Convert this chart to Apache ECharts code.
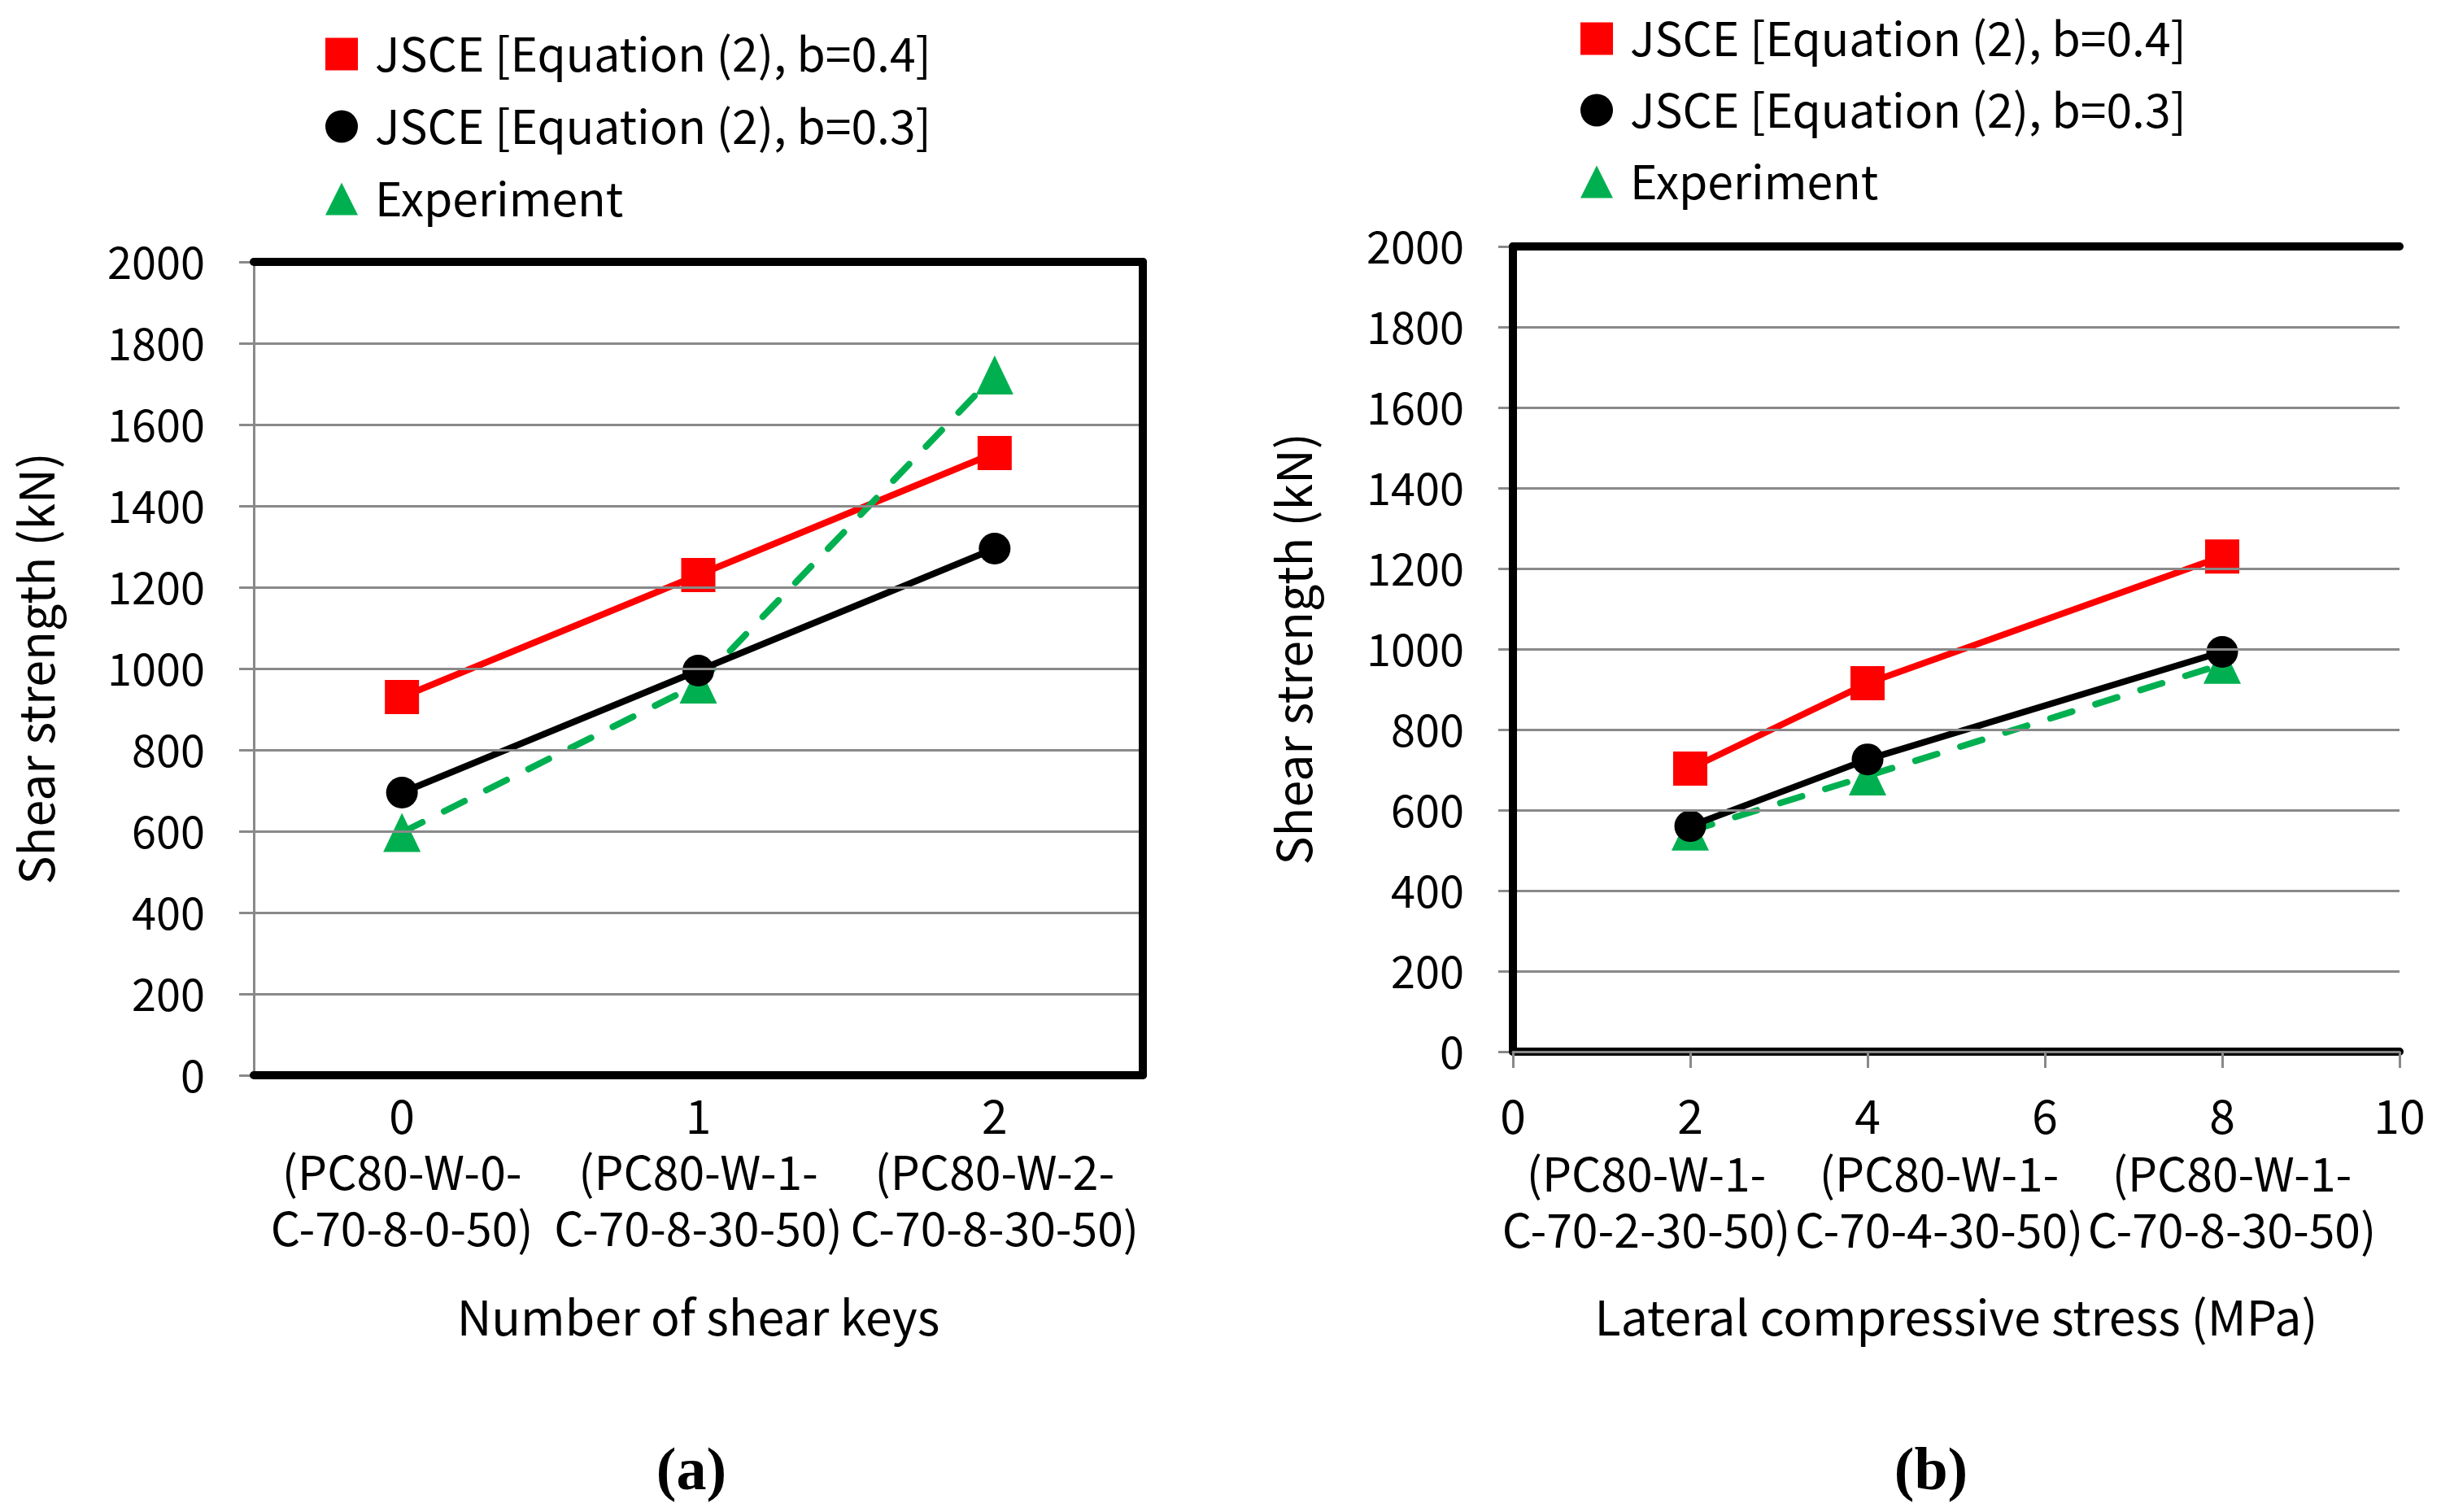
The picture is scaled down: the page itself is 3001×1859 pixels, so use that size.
<!DOCTYPE html>
<html>
<head>
<meta charset="utf-8">
<script src="https://cdn.jsdelivr.net/npm/echarts@6/dist/echarts.min.js"></script>
<style>
html,body{margin:0;padding:0;background:#fff;}
#main{width:3001px;height:1859px;}
</style>
</head>
<body>
<div id="main"></div>
<script>
// ---- data ----
var seriesNames = ['JSCE [Equation (2), b=0.4]', 'JSCE [Equation (2), b=0.3]', 'Experiment'];

// (a) number of shear keys
var shearKeys = ['0', '1', '2'];
var specimensA = ['(PC80-W-0-\nC-70-8-0-50)', '(PC80-W-1-\nC-70-8-30-50)', '(PC80-W-2-\nC-70-8-30-50)'];
var aJsce04 = [930, 1230, 1530];
var aJsce03 = [695, 995, 1295];
var aExp = [597, 962, 1722];

// (b) lateral compressive stress
var stress = [2, 4, 8];
var specimensB = ['(PC80-W-1-\nC-70-2-30-50)', '(PC80-W-1-\nC-70-4-30-50)', '(PC80-W-1-\nC-70-8-30-50)'];
var bJsce04 = [703, 915, 1230];
var bJsce03 = [560, 726, 993];
var bExp = [548, 685, 962];

var yTicks = {min: 0, max: 2000, interval: 200};
var xTicksB = {min: 0, max: 10, interval: 2};

// ---- styles ----
var FONT = 'Noto Sans CJK KR';
var GRAY = '#898989';
var RED = '#FF0000', BLACK = '#000000', GREEN = '#00B050';
var TICK_FS = 54, LABEL_FS = 57, NAME_FS = 59;

function pairs(xs, ys) { return xs.map(function (x, i) { return [x, ys[i]]; }); }

var chart = echarts.init(document.getElementById('main'), null, {renderer: 'canvas'});

function frameAxisX(grid, pos, type) {
  return {
    gridIndex: grid, type: type, position: pos, z: 6,
    min: type === 'value' ? xTicksB.min : undefined,
    max: type === 'value' ? xTicksB.max : undefined,
    interval: type === 'value' ? xTicksB.interval : undefined,
    data: type === 'category' ? shearKeys : undefined,
    axisLine: {show: true, onZero: false, lineStyle: {color: BLACK, width: 10}},
    axisTick: {show: false}, axisLabel: {show: false}, splitLine: {show: false}
  };
}
function frameAxisY(grid) {
  return {
    gridIndex: grid, type: 'value', position: 'right', z: 6,
    min: yTicks.min, max: yTicks.max, interval: yTicks.interval,
    axisLine: {show: true, lineStyle: {color: BLACK, width: 10}},
    axisTick: {show: false}, axisLabel: {show: false}, splitLine: {show: false}
  };
}
function mainAxisY(grid, nameGap, labelMargin) {
  return {
    gridIndex: grid, type: 'value', position: 'left', z: 5,
    min: yTicks.min, max: yTicks.max, interval: yTicks.interval,
    name: 'Shear strength (kN)', nameLocation: 'middle', nameGap: nameGap,
    nameTextStyle: {fontFamily: FONT, fontSize: NAME_FS, color: BLACK},
    axisLine: {show: true, lineStyle: {color: GRAY, width: 3}},
    axisTick: {show: true, length: 18, lineStyle: {color: GRAY, width: 3}},
    axisLabel: {fontFamily: FONT, fontSize: TICK_FS, color: BLACK, margin: labelMargin,
      formatter: function (v) { return String(v); }},
    splitLine: {show: true, lineStyle: {color: GRAY, width: 3}}
  };
}

var option = {
  backgroundColor: '#fff',
  animation: false,
  grid: [
    {left: 312, right: 3001 - 1405, top: 322, bottom: 1859 - 1322, containLabel: false},
    {left: 1860, right: 3001 - 2950, top: 303, bottom: 1859 - 1293, containLabel: false},
    {left: 1844, right: 3001 - 2924, top: 303, bottom: 1859 - 1293, containLabel: false}
  ],
  legend: [
    {
      orient: 'vertical', left: 395, top: 33, itemWidth: 40, itemHeight: 40, itemGap: 32,
      selectedMode: false,
      textStyle: {fontFamily: FONT, fontSize: LABEL_FS, color: BLACK, lineHeight: 56, padding: [0, 0, 0, 16]},
      data: [{name: seriesNames[0], icon: 'rect'}, {name: seriesNames[1], icon: 'circle'}, {name: seriesNames[2], icon: 'triangle'}]
    },
    {
      orient: 'vertical', left: 1938, top: 14, itemWidth: 40, itemHeight: 40, itemGap: 31,
      selectedMode: false,
      textStyle: {fontFamily: FONT, fontSize: LABEL_FS, color: BLACK, lineHeight: 56, padding: [0, 0, 0, 16]},
      data: [{name: seriesNames[0], icon: 'rect'}, {name: seriesNames[1], icon: 'circle'}, {name: seriesNames[2], icon: 'triangle'}]
    }
  ],
  xAxis: [
    {
      gridIndex: 0, type: 'category', position: 'bottom', z: 6, data: shearKeys, boundaryGap: true,
      name: 'Number of shear keys', nameLocation: 'middle', nameGap: 268,
      nameTextStyle: {fontFamily: FONT, fontSize: NAME_FS, color: BLACK},
      axisLine: {show: true, onZero: false, lineStyle: {color: BLACK, width: 10}},
      axisTick: {show: false},
      axisLabel: {
        interval: 0, fontFamily: FONT, fontSize: LABEL_FS, color: BLACK, lineHeight: 69, margin: 16, align: 'center',
        formatter: function (v, i) { return v + '\n' + specimensA[i]; }
      },
      splitLine: {show: false}
    },
    frameAxisX(0, 'top', 'category'),
    {
      gridIndex: 1, type: 'value', position: 'bottom', z: 7,
      min: xTicksB.min, max: xTicksB.max, interval: xTicksB.interval,
      name: 'Lateral compressive stress (MPa)', nameLocation: 'middle', nameGap: 297,
      nameTextStyle: {fontFamily: FONT, fontSize: NAME_FS, color: BLACK},
      axisLine: {show: true, onZero: false, lineStyle: {color: GRAY, width: 3}},
      axisTick: {show: true, length: 20, lineStyle: {color: GRAY, width: 3}},
      axisLabel: {
        fontFamily: FONT, fontSize: LABEL_FS, color: BLACK, lineHeight: 69, margin: 45, align: 'center',
        formatter: function (v) { return String(v); }
      },
      splitLine: {show: false}
    },
    frameAxisX(1, 'bottom', 'value'),
    frameAxisX(1, 'top', 'value'),
    {
      gridIndex: 2, type: 'category', position: 'bottom', data: specimensB, boundaryGap: true,
      axisLine: {show: false}, axisTick: {show: false}, splitLine: {show: false},
      axisLabel: {interval: 0, fontFamily: FONT, fontSize: LABEL_FS, color: BLACK, lineHeight: 69, margin: 116, align: 'center'}
    }
  ],
  yAxis: [
    mainAxisY(0, 238, 60),
    frameAxisY(0),
    mainAxisY(1, 240, 60),
    frameAxisY(1),
    {gridIndex: 2, type: 'value', show: false, min: yTicks.min, max: yTicks.max}
  ],
  graphic: [
    {type: 'text', x: 850, y: 1812, style: {text: '(a)', font: 'bold 74px "Liberation Serif"', fill: BLACK, align: 'center', verticalAlign: 'middle'}},
    {type: 'text', x: 2374, y: 1812, style: {text: '(b)', font: 'bold 74px "Liberation Serif"', fill: BLACK, align: 'center', verticalAlign: 'middle'}}
  ],
  series: [
    {
      name: seriesNames[0], type: 'line', xAxisIndex: 0, yAxisIndex: 0, data: aJsce04,
      symbol: 'rect', symbolSize: 42, color: RED,
      lineStyle: {color: RED, width: 8}, itemStyle: {color: RED}
    },
    {
      name: seriesNames[2], type: 'line', xAxisIndex: 0, yAxisIndex: 0, data: aExp,
      symbol: 'triangle', symbolSize: [46, 48], color: GREEN,
      lineStyle: {color: GREEN, width: 8, type: [28, 30], cap: 'round'}, itemStyle: {color: GREEN}
    },
    {
      name: seriesNames[1], type: 'line', xAxisIndex: 0, yAxisIndex: 0, data: aJsce03,
      symbol: 'circle', symbolSize: 39, color: BLACK,
      lineStyle: {color: BLACK, width: 8}, itemStyle: {color: BLACK}
    },
    {
      name: seriesNames[0], type: 'line', xAxisIndex: 2, yAxisIndex: 2, data: pairs(stress, bJsce04),
      symbol: 'rect', symbolSize: 42, color: RED,
      lineStyle: {color: RED, width: 8}, itemStyle: {color: RED}
    },
    {
      name: seriesNames[2], type: 'line', xAxisIndex: 2, yAxisIndex: 2, data: pairs(stress, bExp),
      symbol: 'triangle', symbolSize: [46, 48], color: GREEN,
      lineStyle: {color: GREEN, width: 8, type: [28, 30], cap: 'round'}, itemStyle: {color: GREEN}
    },
    {
      name: seriesNames[1], type: 'line', xAxisIndex: 2, yAxisIndex: 2, data: pairs(stress, bJsce03),
      symbol: 'circle', symbolSize: 39, color: BLACK,
      lineStyle: {color: BLACK, width: 8}, itemStyle: {color: BLACK}
    }
  ]
};
chart.setOption(option);
</script>
</body>
</html>
